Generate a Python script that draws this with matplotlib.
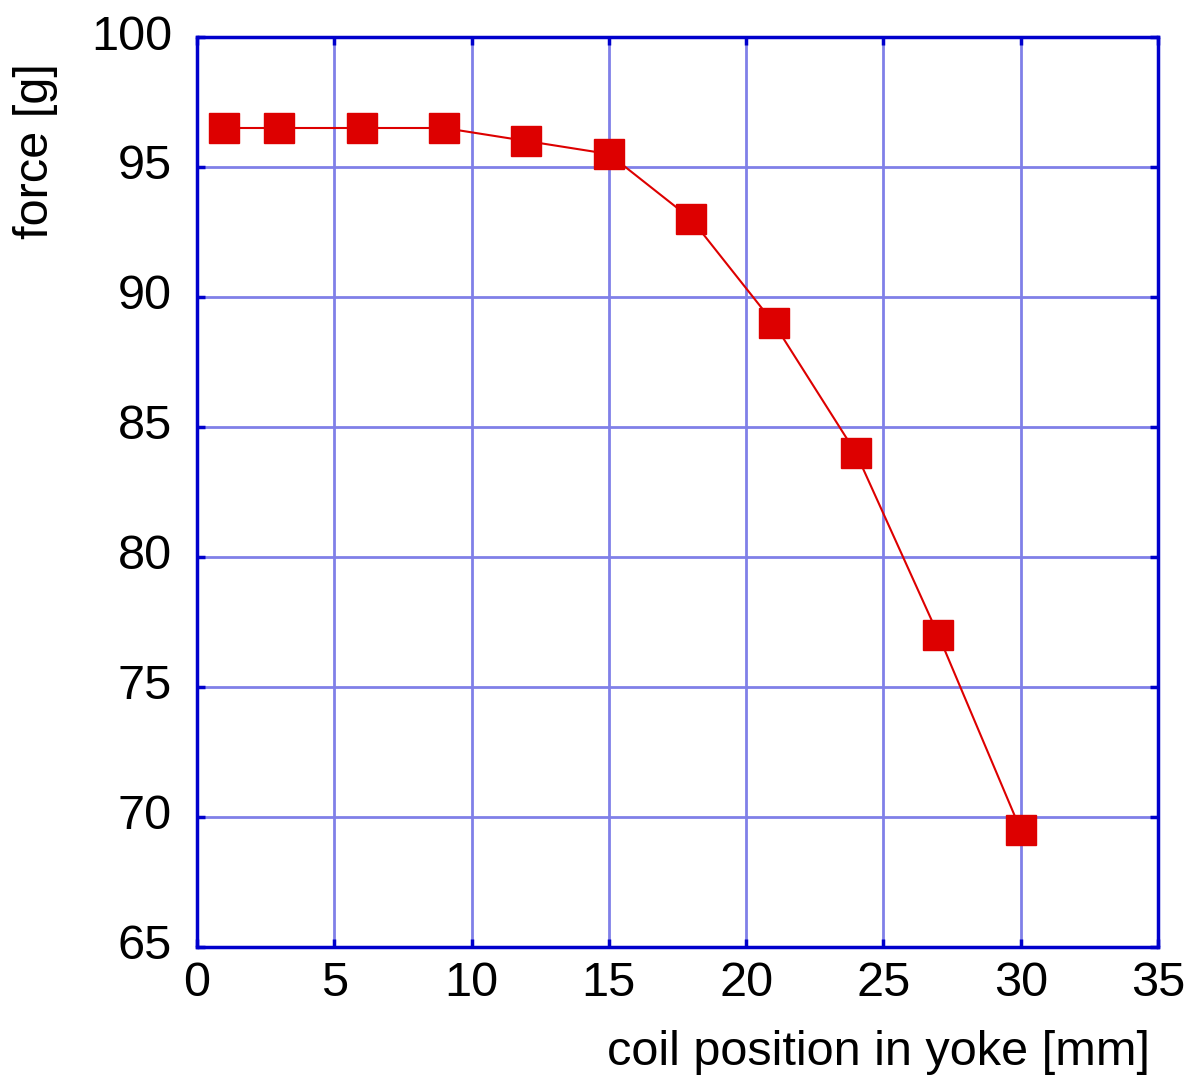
import matplotlib
matplotlib.use("Agg")
import matplotlib.pyplot as plt
import matplotlib.transforms as mtransforms

# coil position [mm] and measured force [g]
position = [1, 3, 6, 9, 12, 15, 18, 21, 24, 27, 30]
force = [96.5, 96.5, 96.5, 96.5, 96.0, 95.5, 93.0, 89.0, 84.0, 77.0, 69.5]
xticks = [0, 5, 10, 15, 20, 25, 30, 35]
yticks = [65, 70, 75, 80, 85, 90, 95, 100]

plt.rcParams['font.family'] = ['Liberation Sans', 'DejaVu Sans']

fig = plt.figure(figsize=(11.99, 10.82), dpi=100)
ax = fig.add_axes([0.1643, 0.1248, 0.8015, 0.841])

ax.plot(position, force, color='#dd0000', lw=1.5, marker='s', ms=22,
        mec='#dd0000', mfc='#dd0000', zorder=3, clip_on=False)

ax.set_xlim(0, 35)
ax.set_ylim(65, 100)
ax.set_xticks(xticks)
ax.set_yticks(yticks)
ax.grid(True, color='#8080e8', lw=2)
ax.set_axisbelow(True)
for s in ax.spines.values():
    s.set_color('#0000cc')
    s.set_linewidth(2.5)
ax.tick_params(direction='in', length=6, width=2.5, color='#0000cc',
               top=True, right=True, labelsize=35)
ax.tick_params(axis='y', pad=18)
ax.tick_params(axis='x', pad=10)

# y labels sit a little above their ticks in the original
shift = mtransforms.ScaledTranslation(0, 5 / 100, fig.dpi_scale_trans)
for lab in ax.get_yticklabels():
    lab.set_transform(lab.get_transform() + shift)

fig.text(0.959, 0.016, 'coil position in yoke [mm]', ha='right', va='baseline', fontsize=35)
fig.text(0.03, 0.942, 'force [g]', ha='center', va='top', rotation=90, fontsize=35)

fig.savefig('out.png', dpi=100)
